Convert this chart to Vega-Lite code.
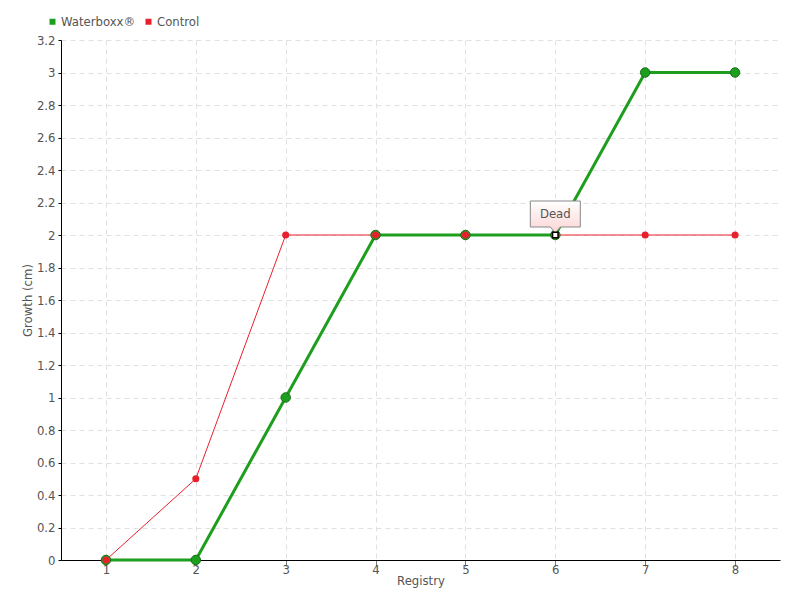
{
  "$schema": "https://vega.github.io/schema/vega-lite/v6.json",
  "width": 719,
  "height": 520,
  "autosize": {"type": "none"},
  "padding": {"left": 61, "top": 40, "right": 20, "bottom": 40},
  "background": "white",
  "config": {
    "font": "DejaVu Sans Condensed",
    "view": {"stroke": null},
    "axis": {
      "labelColor": "#555555",
      "titleColor": "#555555",
      "labelFontSize": 13,
      "titleFontSize": 13,
      "titleFontWeight": "normal",
      "domainColor": "#000000",
      "gridColor": "#e0e0e0",
      "gridDash": [5, 4],
      "labelFont": "DejaVu Sans Condensed",
      "titleFont": "DejaVu Sans Condensed"
    },
    "legend": {
      "labelFont": "DejaVu Sans Condensed",
      "labelFontSize": 13,
      "labelColor": "#555555"
    }
  },
  "data": {
    "values": [
      {"registry": 1, "growth": 0, "series": "Waterboxx®"},
      {"registry": 2, "growth": 0, "series": "Waterboxx®"},
      {"registry": 3, "growth": 1, "series": "Waterboxx®"},
      {"registry": 4, "growth": 2, "series": "Waterboxx®"},
      {"registry": 5, "growth": 2, "series": "Waterboxx®"},
      {"registry": 6, "growth": 2, "series": "Waterboxx®"},
      {"registry": 7, "growth": 3, "series": "Waterboxx®"},
      {"registry": 8, "growth": 3, "series": "Waterboxx®"},
      {"registry": 1, "growth": 0, "series": "Control"},
      {"registry": 2, "growth": 0.5, "series": "Control"},
      {"registry": 3, "growth": 2, "series": "Control"},
      {"registry": 4, "growth": 2, "series": "Control"},
      {"registry": 5, "growth": 2, "series": "Control"},
      {"registry": 6, "growth": 2, "series": "Control"},
      {"registry": 7, "growth": 2, "series": "Control"},
      {"registry": 8, "growth": 2, "series": "Control"}
    ]
  },
  "encoding": {
    "x": {
      "field": "registry",
      "type": "quantitative",
      "scale": {"domain": [0.5, 8.5], "nice": false, "zero": false},
      "axis": {
        "title": "Registry",
        "values": [1, 2, 3, 4, 5, 6, 7, 8],
        "tickColor": "#777777",
        "tickSize": 6,
        "labelPadding": -3,
        "titlePadding": -2,
        "format": "d"
      }
    },
    "y": {
      "field": "growth",
      "type": "quantitative",
      "scale": {"domain": [0, 3.2], "nice": false},
      "axis": {
        "title": "Growth (cm)",
        "values": [0, 0.2, 0.4, 0.6, 0.8, 1, 1.2, 1.4, 1.6, 1.8, 2, 2.2, 2.4, 2.6, 2.8, 3, 3.2],
        "format": ".2~f",
        "tickColor": "#000000",
        "tickSize": 3,
        "labelPadding": 3,
        "titlePadding": 2
      }
    },
    "color": {
      "field": "series",
      "type": "nominal",
      "scale": {"domain": ["Waterboxx®", "Control"], "range": ["#1e9e1e", "#e8202d"]},
      "legend": {
        "title": null,
        "orient": "none",
        "direction": "horizontal",
        "legendX": -15,
        "legendY": -25,
        "symbolType": "square",
        "symbolSize": 36,
        "symbolOffset": 0,
        "labelOffset": 2,
        "columnPadding": 6,
        "symbolStrokeWidth": 0
      }
    }
  },
  "layer": [
    {
      "transform": [{"filter": "datum.series === 'Control'"}],
      "mark": {"type": "line", "strokeWidth": 1}
    },
    {
      "transform": [{"filter": "datum.series === 'Waterboxx®'"}],
      "mark": {"type": "line", "strokeWidth": 3}
    },
    {
      "transform": [{"filter": "datum.series === 'Waterboxx®'"}],
      "mark": {"type": "point", "filled": true, "size": 90, "opacity": 1, "stroke": "#157015", "strokeWidth": 1}
    },
    {
      "transform": [{"filter": "datum.series === 'Control'"}],
      "mark": {"type": "point", "filled": true, "size": 50, "opacity": 1}
    },
    {
      "data": {"values": [{"registry": 6, "growth": 2, "label": "Dead"}]},
      "encoding": {"color": {"value": "black"}},
      "layer": [
        {
          "mark": {
            "type": "point",
            "shape": "M-0.735,-1 L0.735,-1 L0.735,-0.235 L0.147,-0.235 L0,-0.06 L-0.147,-0.235 L-0.735,-0.235 Z",
            "size": 4624,
            "filled": true,
            "opacity": 1,
            "fill": {
              "gradient": "linear",
              "x1": 0, "y1": 0, "x2": 0, "y2": 1,
              "stops": [
                {"offset": 0, "color": "#ffffff"},
                {"offset": 1, "color": "#fcd4d4"}
              ]
            },
            "stroke": "#888888",
            "strokeWidth": 1
          }
        },
        {
          "mark": {"type": "text", "dy": -21, "fontSize": 13, "fill": "#555555", "font": "DejaVu Sans Condensed"},
          "encoding": {"text": {"field": "label"}}
        },
        {
          "mark": {"type": "point", "shape": "square", "size": 30, "filled": true, "fill": "white", "stroke": "black", "strokeWidth": 1.5, "opacity": 1}
        }
      ]
    }
  ]
}
